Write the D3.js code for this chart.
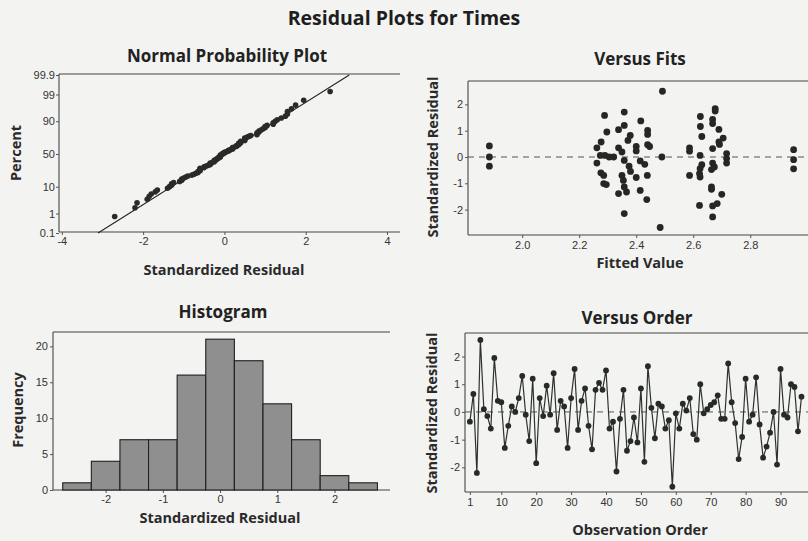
<!DOCTYPE html>
<html lang="en">
<head>
<meta charset="utf-8">
<title>Residual Plots for Times</title>
<script src="https://cdn.jsdelivr.net/npm/d3@7"></script>
<style>
  html, body { margin: 0; padding: 0; background: #f3f3f1; }
  svg { display: block; font-family: "Open Sans", "DejaVu Sans", sans-serif; }
  .tick text { font-size: 11px; fill: #333; }
  .tick line { stroke: #555; }
  .frame { stroke: #444; stroke-width: 1.1; }
  .title { font-weight: bold; font-size: 17px; fill: #222; text-anchor: middle; }
  .axis-label { font-weight: bold; font-size: 14.5px; fill: #2a2a2a; text-anchor: middle; }
</style>
</head>
<body>
<svg id="chart" width="808" height="541"></svg>
<script>
// residuals in observation order
const orderResid = [-0.35, 0.65, -2.2, 2.6, 0.1, -0.15, -0.6, 1.95, 0.4, 0.35,
  -1.3, -0.5, 0.2, 0.0, 0.5, 1.3, -0.1, -1.05, 1.2, -1.85,
  0.5, -0.15, 0.95, -0.1, 1.4, -0.65, 0.4, 0.2, -1.3, 0.5,
  1.55, -0.65, 0.4, 0.85, -0.5, -1.35, 0.8, 1.05, 0.8, 1.5,
  -0.6, -0.35, -2.15, -0.25, 0.8, -1.4, -1.05, -0.2, -1.1, 0.85,
  -1.8, 1.65, 0.15, -0.95, 0.3, 0.2, -0.6, -0.3, -2.7, -0.05,
  -0.6, 0.3, 0.05, 0.5, -0.8, -1.0, 1.0, -0.05, 0.1, 0.25,
  0.35, 0.6, -0.25, -0.25, 1.75, 0.35, -0.4, -1.7, -0.9, 1.2,
  -0.35, -0.1, 1.25, -0.45, -1.65, -1.25, -0.75, 0.0, -1.9, 1.55,
  -0.1, -0.2, 1.0, 0.9, -0.7, 0.55];

// versus fits points
const fitValues = [1.885, 1.885, 1.885,
  2.289, 2.358, 2.416, 2.297, 2.338, 2.358, 2.379, 2.371, 2.44, 2.44,
  2.277, 2.262, 2.338, 2.40, 2.40, 2.44, 2.447, 2.274, 2.29, 2.305,
  2.321, 2.35, 2.358, 2.262, 2.414, 2.43, 2.375, 2.38, 2.276, 2.286,
  2.35, 2.439, 2.40, 2.355, 2.286, 2.295, 2.358, 2.414, 2.338, 2.366,
  2.437, 2.358,
  2.492, 2.49, 2.484,
  2.677, 2.677, 2.625, 2.668, 2.668, 2.625, 2.69, 2.63, 2.705, 2.69,
  2.692, 2.587, 2.587, 2.668, 2.624, 2.717, 2.717, 2.717, 2.63, 2.668,
  2.664, 2.624, 2.674, 2.622, 2.587, 2.624, 2.664, 2.664, 2.70, 2.622,
  2.668, 2.684, 2.668,
  2.952, 2.952, 2.952];
const fitResid = [0.42, 0.0, -0.35,
  1.58, 1.71, 1.37, 0.95, 1.04, 1.2, 0.82, 0.63, 1.01, 0.86,
  0.57, 0.35, 0.35, 0.4, 0.23, 0.47, 0.4, 0.06, 0.06, 0.0,
  0.0, 0.19, -0.13, -0.23, -0.15, -0.28, -0.35, -0.55, -0.6, -0.7,
  -0.7, -0.7, -0.78, -0.89, -1.01, -1.05, -1.14, -1.27, -1.39, -1.33,
  -1.62, -2.15,
  2.5, 0.0, -2.68,
  1.84, 1.75, 1.54, 1.43, 1.27, 1.16, 1.05, 0.78, 0.72, 0.57,
  0.48, 0.35, 0.22, 0.32, 0.06, 0.13, -0.06, -0.23, -0.29, -0.23,
  -0.48, -0.44, -0.38, -0.63, -0.7, -0.76, -1.14, -1.23, -1.42, -1.84,
  -1.86, -1.77, -2.28,
  0.28, -0.1, -0.45];

// histogram bins (centre, count)
const binCenters = [-2.5, -2.0, -1.5, -1.0, -0.5, 0.0, 0.5, 1.0, 1.5, 2.0, 2.5];
const binCounts = [1, 4, 7, 7, 16, 21, 18, 12, 7, 2, 1];
const binWidth = 0.5;

// probability plot: fitted line and percent ticks
const lineMean = -0.02, lineSd = 1.0;
const pctTicks = [0.1, 1, 10, 50, 90, 99, 99.9];
const pctLabels = ["0.1", "1", "10", "50", "90", "99", "99.9"];

const nppXTicks = [-4, -2, 0, 2, 4];
const fitsXTicks = [2.0, 2.2, 2.4, 2.6, 2.8];
const residTicks = [-2, -1, 0, 1, 2];
const histXTicks = [-2, -1, 0, 1, 2];
const histYTicks = [0, 5, 10, 15, 20];
const orderXTicks = [1, 10, 20, 30, 40, 50, 60, 70, 80, 90];

// plain hyphen minus like the original, no unicode minus
const intFmt = d => String(d);
const oneDec = d => d.toFixed(1);

// inverse normal cdf (Acklam)
function probit(p) {
  const a = [-39.6968302866538, 220.946098424521, -275.928510446969, 138.357751867269, -30.6647980661472, 2.50662827745924];
  const b = [-54.4760987982241, 161.585836858041, -155.698979859887, 66.8013118877197, -13.2806815528857];
  const c = [-0.00778489400243029, -0.322396458041136, -2.40075827716184, -2.54973253934373, 4.37466414146497, 2.93816398269878];
  const d = [0.00778469570904146, 0.32246712907004, 2.445134137143, 3.75440866190742];
  const pl = 0.02425;
  let q, r;
  if (p < pl) {
    q = Math.sqrt(-2 * Math.log(p));
    return (((((c[0]*q+c[1])*q+c[2])*q+c[3])*q+c[4])*q+c[5]) / ((((d[0]*q+d[1])*q+d[2])*q+d[3])*q+1);
  }
  if (p > 1 - pl) {
    q = Math.sqrt(-2 * Math.log(1 - p));
    return -(((((c[0]*q+c[1])*q+c[2])*q+c[3])*q+c[4])*q+c[5]) / ((((d[0]*q+d[1])*q+d[2])*q+d[3])*q+1);
  }
  q = p - 0.5; r = q * q;
  return (((((a[0]*r+a[1])*r+a[2])*r+a[3])*r+a[4])*r+a[5])*q / (((((b[0]*r+b[1])*r+b[2])*r+b[3])*r+b[4])*r+1);
}

const svg = d3.select("#chart");

svg.append("text").attr("x", 404).attr("y", 25)
  .attr("text-anchor", "middle").attr("font-weight", "bold")
  .attr("font-size", 19.5).attr("fill", "#1e1e1e")
  .text("Residual Plots for Times");

// frame: top, bottom, left (right edge not visible in the scan)
function frame(x0, x1, y0, y1) {
  const g = svg.append("g").attr("class", "frame");
  g.append("line").attr("x1", x0).attr("x2", x1).attr("y1", y0).attr("y2", y0);
  g.append("line").attr("x1", x0).attr("x2", x1).attr("y1", y1).attr("y2", y1);
  g.append("line").attr("x1", x0).attr("x2", x0).attr("y1", y0).attr("y2", y1);
}

function styleAxis(g) {
  g.select(".domain").remove();
  return g;
}

function titles(cx, ty, title, lx, ly, xlab, yx, yy, ylab) {
  svg.append("text").attr("class", "title").attr("x", cx).attr("y", ty).text(title);
  svg.append("text").attr("class", "axis-label").attr("x", lx).attr("y", ly).text(xlab);
  svg.append("text").attr("class", "axis-label")
    .attr("transform", `translate(${yx},${yy}) rotate(-90)`).text(ylab);
}

// ---------- Normal Probability Plot ----------
{
  const L = 59, R = 398, T = 74, B = 232;
  const x = d3.scaleLinear().domain([-4.07, 4.27]).range([L, R]);
  const y = d3.scaleLinear().domain([-3.09, 3.09]).range([233, 75]);

  frame(L, 400, T, B);
  styleAxis(svg.append("g").attr("transform", `translate(0,${B})`)
    .call(d3.axisBottom(x).tickValues(nppXTicks).tickFormat(intFmt).tickSize(3).tickPadding(2)));
  styleAxis(svg.append("g").attr("transform", `translate(${L},0)`)
    .call(d3.axisLeft(y).tickValues(pctTicks.map(p => probit(p / 100)))
      .tickFormat((dd, i) => pctLabels[i]).tickSize(3).tickPadding(1)))
    .selectAll("text").attr("font-size", 10);

  const z0 = probit(0.001), z1 = probit(0.999);
  svg.append("line")
    .attr("x1", x(lineMean + lineSd * z0)).attr("y1", y(z0))
    .attr("x2", x(lineMean + lineSd * z1)).attr("y2", y(z1))
    .attr("stroke", "#222").attr("stroke-width", 1.1);

  const sorted = orderResid.slice().sort(d3.ascending);
  const n = sorted.length;
  svg.append("g").selectAll("circle").data(sorted).join("circle")
    .attr("cx", d => x(d))
    .attr("cy", (d, i) => y(probit((i + 1 - 0.3) / (n + 0.4))))
    .attr("r", 2.8).attr("fill", "#2a2a2a");

  titles(227, 62, "Normal Probability Plot", 224, 275, "Standardized Residual", 21, 153, "Percent");
}

// ---------- Versus Fits ----------
{
  const L = 468, R = 813, T = 81, B = 235;
  const x = d3.scaleLinear().domain([1.81, 3.02]).range([L, R]);
  const y = d3.scaleLinear().domain([-2.966, 2.89]).range([B, T]);

  frame(L, R, T, B);
  styleAxis(svg.append("g").attr("transform", `translate(0,${B})`)
    .call(d3.axisBottom(x).tickValues(fitsXTicks).tickFormat(oneDec).tickSize(3).tickPadding(3)));
  styleAxis(svg.append("g").attr("transform", `translate(${L},0)`)
    .call(d3.axisLeft(y).tickValues(residTicks).tickFormat(intFmt).tickSize(3).tickPadding(2)));

  svg.append("line").attr("x1", L).attr("x2", R).attr("y1", y(0)).attr("y2", y(0))
    .attr("stroke", "#555").attr("stroke-dasharray", "6,5");

  svg.append("g").selectAll("circle").data(fitValues).join("circle")
    .attr("cx", d => x(d))
    .attr("cy", (d, i) => y(fitResid[i]))
    .attr("r", 3.4).attr("fill", "#262626");

  titles(640, 65, "Versus Fits", 640, 268, "Fitted Value", 438, 157, "Standardized Residual");
}

// ---------- Histogram ----------
{
  const L = 53, R = 390, T = 332, B = 490;
  const x = d3.scaleLinear().domain([-2.92, 2.97]).range([L, R]);
  const y = d3.scaleLinear().domain([0, 22]).range([B, T]);

  frame(L, R, T, B);
  styleAxis(svg.append("g").attr("transform", `translate(0,${B})`)
    .call(d3.axisBottom(x).tickValues(histXTicks).tickFormat(intFmt).tickSize(3).tickPadding(2)));
  styleAxis(svg.append("g").attr("transform", `translate(${L},0)`)
    .call(d3.axisLeft(y).tickValues(histYTicks).tickFormat(intFmt).tickSize(3).tickPadding(2)));

  svg.append("g").selectAll("rect").data(binCounts).join("rect")
    .attr("x", (d, i) => x(binCenters[i] - binWidth / 2))
    .attr("width", (d, i) => x(binCenters[i] + binWidth / 2) - x(binCenters[i] - binWidth / 2))
    .attr("y", d => y(d))
    .attr("height", d => B - y(d))
    .attr("fill", "#8f8f8f").attr("stroke", "#1f1f1f").attr("stroke-width", 1.1);

  titles(223, 318, "Histogram", 220, 523, "Standardized Residual", 23, 410, "Frequency");
}

// ---------- Versus Order ----------
{
  const L = 465, R = 813, T = 333, B = 492;
  const x = d3.scaleLinear().domain([-0.4, 99.3]).range([L, R]);
  const y = d3.scaleLinear().domain([-2.89, 2.85]).range([B, T]);

  frame(L, R, T, B);
  styleAxis(svg.append("g").attr("transform", `translate(0,${B})`)
    .call(d3.axisBottom(x).tickValues(orderXTicks).tickFormat(intFmt).tickSize(3).tickPadding(3)));
  styleAxis(svg.append("g").attr("transform", `translate(${L},0)`)
    .call(d3.axisLeft(y).tickValues(residTicks).tickFormat(intFmt).tickSize(3).tickPadding(2)));

  svg.append("line").attr("x1", L).attr("x2", R).attr("y1", y(0)).attr("y2", y(0))
    .attr("stroke", "#555").attr("stroke-dasharray", "6,5");

  svg.append("path").datum(orderResid)
    .attr("d", d3.line().x((d, i) => x(i + 1)).y(d => y(d)))
    .attr("fill", "none").attr("stroke", "#2c332f").attr("stroke-width", 1.2);

  svg.append("g").selectAll("circle").data(orderResid).join("circle")
    .attr("cx", (d, i) => x(i + 1))
    .attr("cy", d => y(d))
    .attr("r", 2.9).attr("fill", "#262a28");

  titles(637, 324, "Versus Order", 640, 535, "Observation Order", 437, 413, "Standardized Residual");
}
</script>
</body>
</html>
